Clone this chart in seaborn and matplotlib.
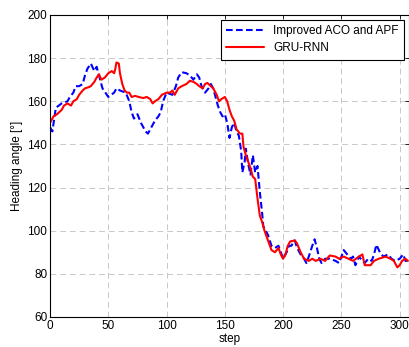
import matplotlib
matplotlib.use("Agg")
import matplotlib.pyplot as plt
import seaborn as sns
import pandas as pd

# Heading angle traces of the two planners
aco_step = [0, 2, 5, 10, 15, 17, 20, 22, 25, 28, 30, 32, 35, 38, 40, 42, 45, 50, 55, 57,
            60, 65, 68, 70, 72, 75, 78, 82, 84, 88, 90, 93, 95, 97, 100, 105, 108, 110,
            113, 117, 120, 123, 126, 128, 130, 133, 136, 138, 140, 142, 144, 146, 148,
            150, 152, 154, 156, 158, 160, 162, 164, 165, 167, 168, 170, 172, 174, 176,
            178, 180, 182, 183, 185, 187, 190, 193, 196, 198, 200, 203, 205, 207, 210,
            212, 215, 218, 220, 222, 225, 227, 229, 231, 233, 236, 240, 245, 248, 250,
            252, 255, 258, 260, 262, 265, 268, 270, 273, 276, 278, 280, 283, 286, 290,
            293, 296, 300, 303, 305, 307]
aco_angle = [148, 146, 157, 159, 160, 162, 164, 167, 167, 168, 172, 175, 177.5, 174, 176,
             172, 166, 162, 164, 166, 165, 164, 160, 155, 152, 154, 150, 146, 145, 149,
             151, 153, 155, 160, 164, 163, 167, 171, 173.5, 173, 172, 170, 172.5, 171,
             167, 164, 166, 168, 166, 162, 158, 155, 153, 154, 150, 143, 148, 150, 146,
             144, 137, 127, 132, 138, 131, 126, 135, 127, 130, 118, 108, 102, 100, 98,
             93, 92, 93, 90, 87, 90, 93, 93, 95.5, 92, 89, 87, 85, 88, 93, 96, 92, 87,
             85, 87, 87, 86, 85, 88, 91, 89, 87, 88, 84, 88, 86, 85, 87, 86, 89, 93.5,
             90, 88, 89, 87, 86, 87, 89, 86, 86]

gru_step = [0, 3, 6, 10, 12, 15, 18, 20, 23, 25, 28, 30, 33, 35, 38, 40, 42, 44, 47, 50,
            53, 55, 56, 57, 59, 60, 62, 64, 66, 68, 70, 73, 76, 80, 83, 86, 88, 90, 93,
            96, 100, 103, 105, 107, 110, 113, 117, 120, 123, 126, 128, 131, 133, 135,
            138, 140, 143, 145, 147, 150, 152, 154, 156, 158, 160, 163, 165, 166, 168,
            170, 172, 174, 176, 178, 180, 182, 184, 186, 188, 190, 193, 196, 198, 200,
            202, 204, 206, 210, 212, 215, 218, 222, 225, 228, 232, 236, 240, 245, 248,
            252, 256, 260, 265, 268, 270, 275, 278, 282, 285, 288, 292, 295, 298, 300,
            302, 305, 307]
gru_angle = [150, 153, 154, 156, 158, 159, 158, 160, 161, 163, 165, 166, 166.5, 167, 169,
             171, 172.5, 170, 171, 173, 174, 173, 175, 178, 177.5, 173, 168, 165, 164,
             164, 162, 162.5, 162, 161.5, 162, 161, 159, 160, 161, 163, 164, 164, 165,
             163, 166, 167, 168, 169.5, 169, 168, 167, 166, 168, 168.5, 167, 166, 163,
             160, 161, 162, 160, 156, 153, 151, 147, 145, 145, 139, 135, 132, 129, 125,
             124, 115, 107, 104, 100, 97, 94, 91, 90, 92, 89, 87, 89, 93, 95, 95.5, 94,
             90, 87, 86, 87, 86, 87, 86, 88.5, 88, 87, 88, 87, 86, 88, 89, 84, 84, 86,
             87, 87.5, 88, 87, 86, 83, 84, 86, 87, 86]

x_ticks = [0, 50, 100, 150, 200, 250, 300]
y_ticks = [60, 80, 100, 120, 140, 160, 180, 200]

sns.set_style("white")
plt.rcParams["font.family"] = ["Liberation Sans", "DejaVu Sans"]
plt.rcParams["text.color"] = "black"
plt.rcParams["axes.labelcolor"] = "black"
plt.rcParams["xtick.color"] = "black"
plt.rcParams["ytick.color"] = "black"

fig = plt.figure(figsize=(4.10, 3.47), dpi=100)
ax = fig.add_axes([0.122, 0.0865, 0.8756, 0.8703])

aco_df = pd.DataFrame({"step": aco_step, "angle": aco_angle})
gru_df = pd.DataFrame({"step": gru_step, "angle": gru_angle})

sns.lineplot(data=aco_df, x="step", y="angle", ax=ax, color="#0000ff",
             linestyle=(0, (3.2, 1.6)), linewidth=1.5, label="Improved ACO and APF")
sns.lineplot(data=gru_df, x="step", y="angle", ax=ax, color="#ff0000",
             linewidth=1.5, label="GRU-RNN")

ax.set_xlim(0, 308)
ax.set_ylim(60, 200)
ax.set_xticks(x_ticks)
ax.set_yticks(y_ticks)
ax.set_xlabel("step", fontsize=8.5, labelpad=1)
ax.set_ylabel("Heading angle [°]", fontsize=8.5, labelpad=3)
ax.tick_params(direction="in", length=3, width=0.6, labelsize=8.5,
               top=True, right=True, pad=2, colors="black")
ax.grid(True, color="#c8c8c8", linestyle=(0, (6, 4)), linewidth=0.7)
for sp in ax.spines.values():
    sp.set_color("black")
    sp.set_linewidth(0.8)

leg = ax.legend(loc="upper right", fontsize=8.5, frameon=True, fancybox=False,
                edgecolor="black", framealpha=1, borderaxespad=0.4,
                handlelength=3.2, borderpad=0.45, labelspacing=0.45)
leg.get_frame().set_linewidth(0.8)
for t in leg.get_texts():
    t.set_color("black")

fig.savefig("out.png", dpi=100)
